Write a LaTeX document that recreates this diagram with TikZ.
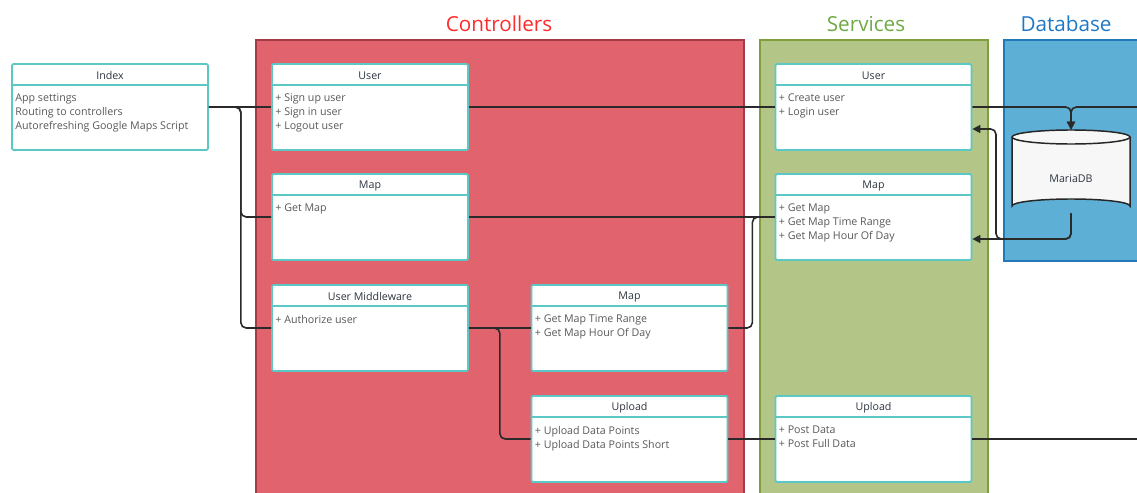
\documentclass[tikz,border=0pt]{standalone}
\usepackage{fontspec}
\setmainfont{Open Sans}
\usetikzlibrary{arrows.meta}
\definecolor{ctrlfill}{HTML}{E0636E}
\definecolor{ctrldraw}{HTML}{A33C46}
\definecolor{svcfill}{HTML}{B3C687}
\definecolor{svcdraw}{HTML}{7F9F3F}
\definecolor{dbfill}{HTML}{5DAFD5}
\definecolor{dbdraw}{HTML}{2379B8}
\definecolor{teal}{HTML}{5CC8C6}
\definecolor{hdrcol}{HTML}{2E3440}
\definecolor{bodycol}{HTML}{595959}
\definecolor{ctrltitle}{HTML}{FF2A2A}
\definecolor{svctitle}{HTML}{6DAA45}
\definecolor{dbtitle}{HTML}{1F78C6}
\definecolor{conncol}{HTML}{2A2A2A}
\tikzset{
  umlbox/.style={draw=teal, fill=white, line width=1.3pt, rounded corners=1pt,
    minimum width=147pt, minimum height=64.5pt, inner sep=0pt},
  hdrline/.style={draw=teal, line width=1.3pt},
  hdrtext/.style={font=\fontsize{8}{9}\selectfont, text=hdrcol, inner sep=0pt},
  bodytext/.style={font=\fontsize{8}{10.5}\selectfont, text=bodycol, inner sep=0pt, align=left},
  conn/.style={draw=conncol, line width=1.2pt, rounded corners=4pt},
  panel/.style={line width=1.4pt},
  title/.style={font=\fontsize{15.5}{18}\selectfont, inner sep=0pt}
}
\newcommand\umlcls[5]{%
  \node[umlbox] (#1) at (#2,#3) {};
  \draw[hdrline] ([yshift=-16.5pt]#1.north west) -- ([yshift=-16.5pt]#1.north east);
  \node[hdrtext] at ([yshift=-9.6pt]#1.north) {#4};
  \node[bodytext, anchor=north west] at ([xshift=3pt,yshift=-23pt]#1.north west) {#5};
}
\begin{document}
\begin{tikzpicture}[x=0.75pt,y=-0.75pt]
\useasboundingbox (0,0) rectangle (1137,492);
% panels
\path[panel, fill=ctrlfill, draw=ctrldraw] (256,40) rectangle (744,500);
\path[panel, fill=svcfill, draw=svcdraw] (760,40) rectangle (988,500);
\path[panel, fill=dbfill, draw=dbdraw] (1004,40) rectangle (1145,261);
% titles
\node[title, text=ctrltitle] (tc) at (499,24) {Controllers};
\node[title, text=svctitle] (ts) at (866,24) {Services};
\node[title, text=dbtitle] (td) at (1066,24) {Database};
% boxes
\umlcls{ix}{110}{107}{Index}{App settings\\Routing to controllers\\Autorefreshing Google Maps Script}
\umlcls{cu}{370}{107}{User}{+ Sign up user\\+ Sign in user\\+ Logout user}
\umlcls{cm}{370}{217}{Map}{+ Get Map}
\umlcls{um}{370}{328}{User Middleware}{+ Authorize user}
\umlcls{cm2}{629.5}{328}{Map}{+ Get Map Time Range\\+ Get Map Hour Of Day}
\umlcls{cup}{629.5}{439}{Upload}{+ Upload Data Points\\+ Upload Data Points Short}
\umlcls{su}{873.5}{107}{User}{+ Create user\\+ Login user}
\umlcls{sm}{873.5}{217}{Map}{+ Get Map\\+ Get Map Time Range\\+ Get Map Hour Of Day}
\umlcls{sup}{873.5}{439}{Upload}{+ Post Data\\+ Post Full Data}
% database cylinder
\draw[fill=white!97!black, draw=black!85, line width=1.1pt]
  (1012,137) -- (1012,206) arc[start angle=180, end angle=360, x radius=59, y radius=7]
  -- (1130,137) arc[start angle=0, end angle=-180, x radius=59, y radius=7] -- cycle;
\draw[draw=black!85, line width=1.1pt]
  (1012,137) arc[start angle=180, end angle=0, x radius=59, y radius=7];
\node[minimum width=88.5pt, minimum height=62.25pt, inner sep=0pt] (db) at (1071,171.5) {};
\node[font=\fontsize{8}{9}\selectfont, text=hdrcol, inner sep=0pt] (dbl) at ([yshift=-5pt]db.center) {MariaDB};
% edge coordinates
\coordinate (r1) at (1140,107);
\coordinate (r2) at (1140,439);
% connectors
\draw[conn] (ix.east) -- (cu.west);
\draw[conn] (ix.east) -- ++(32,0) |- (cm.west);
\draw[conn] (ix.east) -- ++(32,0) |- (um.west);
\draw[conn] (cu.east) -- (su.west);
\draw[conn] (cm.east) -- (sm.west);
\draw[conn] (um.east) -- (cm2.west);
\draw[conn] (um.east) -- ++(31,0) |- (cup.west);
\draw[conn] (cm2.east) -- ++(24,0) |- (sm.west);
\draw[conn] (cup.east) -- (sup.west);
\draw[conn] (sup.east) -- (r2);
\draw[conn, -{Triangle[length=6pt,width=6pt]}] (su.east) -| (db.north);
\draw[conn, -{Triangle[length=6pt,width=6pt]}] (r1) -| (db.north);
\draw[conn, -{Triangle[length=6pt,width=6pt]}] (db.south) |- (sm.east |- 0,239);
\draw[conn, -{Triangle[length=6pt,width=6pt]}] (db.south) |- (996,239) |- (su.east |- 0,129);
\end{tikzpicture}
\end{document}
